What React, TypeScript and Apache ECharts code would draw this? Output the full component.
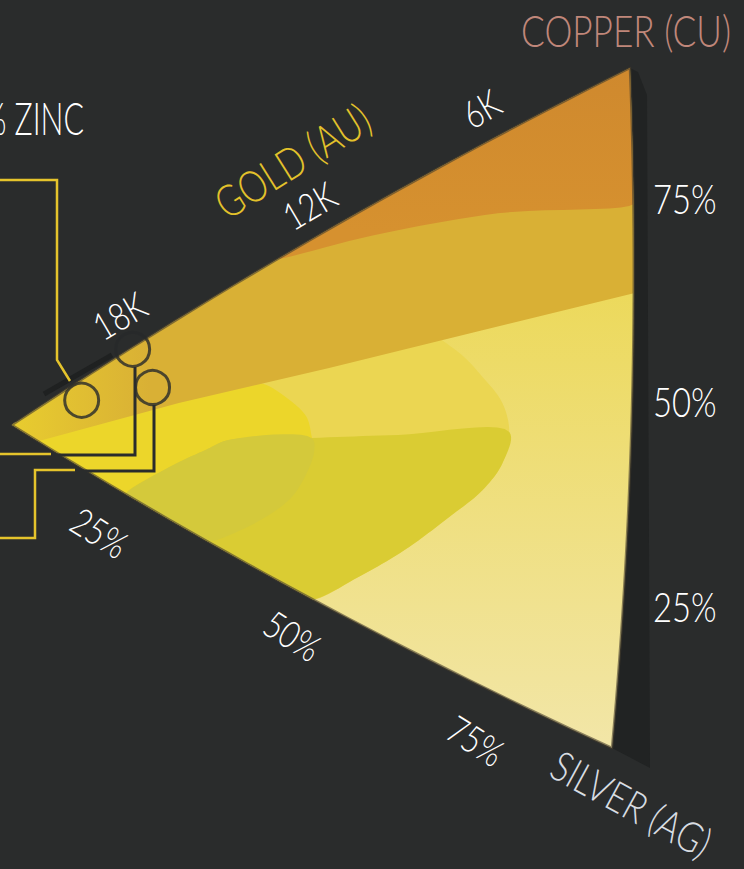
import React, { useEffect, useRef } from 'react';
import * as echarts from 'echarts';

// ---- DATA: alloy zones as ternary compositions [gold %, silver %, copper %] ----
const wholeDiagram = [[100, 0, 0], [0, 100, 0], [0, 0, 100]];
const copperRichZone = [[56, 0, 44], [0, 0, 100], [0, 20, 80], [21, 11, 68], [41, 4.3, 54.7]];
const redGoldZone = [[100, 0, 0], [0, 0, 100], [0, 33.1, 66.9], [23.9, 26.4, 49.7], [47.7, 19.4, 32.9], [72.1, 11.6, 16.3], [95.5, 4.5, 0]];
const paleGoldZone = [
  [49, 51, 0], [41.7, 51.8, 6.5], [34.7, 51.9, 13.4], [27.8, 50.9, 21.3], [22.8, 49.8, 27.4],
  [19.8, 47.5, 32.7], [18.9, 43.5, 37.6], [20.1, 38.7, 41.2], [23.3, 33.3, 43.4], [27.3, 27.6, 45.1],
  [34, 21, 45], [53.1, 13.6, 33.3], [85.5, 4.5, 10], [100, 0, 0],
];
const yellowGoldZone = [
  [66.5, 33.5, 0], [60, 34.9, 5.1], [54.1, 34.8, 11.1], [52, 33.7, 14.3], [49.8, 30, 20.2],
  [50.3, 27.5, 22.2], [51.2, 24.4, 24.4], [54, 20.6, 25.4], [59.1, 15.5, 25.4], [70, 10, 20],
  [85.5, 4.5, 10], [100, 0, 0],
];
const greenGoldZone = [
  [63.8, 21.0, 15.2], [50.3, 27.8, 21.9], [36.4, 34.7, 28.9], [18.9, 43.5, 37.6], [19.8, 47.5, 32.7],
  [22.8, 49.8, 27.4], [27.8, 50.9, 21.3], [34.7, 51.9, 13.4], [41.7, 51.8, 6.5], [49, 51, 0],
  [80.5, 19.5, 0], [73.6, 19.6, 6.8], [67.5, 20.4, 12.1],
];
const overlapZone = [
  [63.8, 21.0, 15.2], [50.3, 27.8, 21.9], [49.8, 30, 20.2], [52, 33.7, 14.3], [54.1, 34.8, 11.1],
  [60, 34.9, 5.1], [66.5, 33.5, 0], [80.5, 19.5, 0], [73.6, 19.6, 6.8], [67.5, 20.4, 12.1],
];
const markedAlloys = [[88.3, 2.8, 8.9], [79.9, 0.3, 19.8], [76.5, 7.2, 16.3]];

const goldEdgeTicks = ['18K', '12K', '6K'];
const silverEdgeTicks = ['25%', '50%', '75%'];
const copperEdgeTicks = ['75%', '50%', '25%'];
const cornerNames = ['GOLD (AU)', 'SILVER (AG)', 'COPPER (CU)'];
const zincNote = '% ZINC';

// ---- LAYOUT ----
const W = 744, H = 869;
const VG = [12, 425], VS = [612, 748], VC = [630, 68];
const BULGE = 11;
const BG = '#2a2c2c';
const FONT = 'Lato';

function outward(a: number[], b: number[], away: number[]) {
  const dx = b[0] - a[0], dy = b[1] - a[1];
  const L = Math.hypot(dx, dy);
  let n = [-dy / L, dx / L];
  const mx = (a[0] + b[0]) / 2 - away[0], my = (a[1] + b[1]) / 2 - away[1];
  if (n[0] * mx + n[1] * my < 0) n = [-n[0], -n[1]];
  return n;
}
const nGS = outward(VG, VS, VC), nSC = outward(VS, VC, VG), nCG = outward(VC, VG, VS);

function toXY(p: number[]) {
  let [g, s, c] = p;
  const t = g + s + c;
  g /= t; s /= t; c /= t;
  const k = 4 * BULGE;
  return [
    g * VG[0] + s * VS[0] + c * VC[0] + k * (g * s * nGS[0] + s * c * nSC[0] + c * g * nCG[0]),
    g * VG[1] + s * VS[1] + c * VC[1] + k * (g * s * nGS[1] + s * c * nSC[1] + c * g * nCG[1]),
  ];
}

// centripetal Catmull-Rom between p1 and p2 (drawing only)
function crSamples(p0: number[], p1: number[], p2: number[], p3: number[], n: number) {
  const d = (a: number[], b: number[]) => Math.max(Math.pow(Math.hypot(b[0] - a[0], b[1] - a[1]), 0.5), 1e-4);
  const t0 = 0, t1 = t0 + d(p0, p1), t2 = t1 + d(p1, p2), t3 = t2 + d(p2, p3);
  const mix = (a: number[], b: number[], wa: number, wb: number) => [a[0] * wa + b[0] * wb, a[1] * wa + b[1] * wb];
  const out: number[][] = [];
  for (let k = 1; k < n; k++) {
    const t = t1 + (t2 - t1) * (k / n);
    const A1 = mix(p0, p1, (t1 - t) / (t1 - t0), (t - t0) / (t1 - t0));
    const A2 = mix(p1, p2, (t2 - t) / (t2 - t1), (t - t1) / (t2 - t1));
    const A3 = mix(p2, p3, (t3 - t) / (t3 - t2), (t - t2) / (t3 - t2));
    const B1 = mix(A1, A2, (t2 - t) / (t2 - t0), (t - t0) / (t2 - t0));
    const B2 = mix(A2, A3, (t3 - t) / (t3 - t1), (t - t1) / (t3 - t1));
    out.push(mix(B1, B2, (t2 - t) / (t2 - t1), (t - t1) / (t2 - t1)));
  }
  return out;
}

function ring(verts: number[][], smooth: boolean) {
  const raw: number[][] = [];
  const onEdge: boolean[] = [];
  for (let i = 0; i < verts.length; i++) {
    const a = verts[i], b = verts[(i + 1) % verts.length];
    raw.push(toXY(a));
    let shared = false;
    for (let j = 0; j < 3; j++) if (a[j] === 0 && b[j] === 0) shared = true;
    onEdge.push(shared);
    if (shared) {
      const n = 30;
      for (let k = 1; k < n; k++) {
        const t = k / n;
        raw.push(toXY([a[0] + (b[0] - a[0]) * t, a[1] + (b[1] - a[1]) * t, a[2] + (b[2] - a[2]) * t]));
        onEdge.push(true);
      }
    }
  }
  if (!smooth) return raw;
  const N = raw.length;
  const out: number[][] = [];
  for (let i = 0; i < N; i++) {
    out.push(raw[i]);
    if (!onEdge[i]) {
      const s = crSamples(raw[(i - 1 + N) % N], raw[i], raw[(i + 1) % N], raw[(i + 2) % N], 10);
      out.push(...s);
    }
  }
  return out;
}

const lg = (x0: number, y0: number, x1: number, y1: number, c0: string, c1: string) =>
  new echarts.graphic.LinearGradient(x0, y0, x1, y1, [{ offset: 0, color: c0 }, { offset: 1, color: c1 }], true);

type Zone = { verts: number[][] | null; fill: any; stroke?: string; lw?: number; shadow?: boolean; smooth?: boolean };
const zones: Zone[] = [
  { verts: null, fill: '#212323', shadow: true },
  { verts: wholeDiagram, fill: lg(0, 290, 0, 750, '#ecd95b', '#f2e6a8') },
  { verts: paleGoldZone, fill: '#ebd652', smooth: true },
  { verts: yellowGoldZone, fill: '#ecd62a', smooth: true },
  { verts: greenGoldZone, fill: '#dacc33', smooth: true },
  { verts: overlapZone, fill: '#d4c93b', smooth: true },
  { verts: redGoldZone, fill: lg(14, 0, 150, 0, '#e8cc2f', '#d9b035') },
  { verts: copperRichZone, fill: lg(0, 70, 0, 230, '#cf892e', '#d6912f'), smooth: true },
  { verts: wholeDiagram, fill: 'none', stroke: 'rgba(70,62,45,0.6)', lw: 2.5 },
];

function rightShadow() {
  const pts: number[][] = [];
  for (let k = 0; k <= 30; k++) {
    const t = k / 30;
    pts.push(toXY([0, t * 100, (1 - t) * 100]));
  }
  pts.push([650, 768], [647, 95], [638, 72]);
  return pts;
}

// condensed look: smaller font stretched vertically
type TOpt = { size: number; rot?: number; color?: string; align?: string; sx?: number };
const txt = (text: string, x: number, y: number, o: TOpt) => {
  const sx = o.sx ?? 0.8;
  return {
    type: 'text', x, y, rotation: o.rot || 0, scaleX: 1, scaleY: 1 / sx, z: 100, silent: true,
    style: {
      text, fill: o.color || '#ffffff', fontFamily: FONT, fontWeight: 300, fontSize: o.size * sx,
      align: o.align || 'center', verticalAlign: 'middle',
    },
  };
};

const goldTickPos = [[119, 315], [309, 205], [481, 108]];
const silverTickPos = [[100, 532], [293, 635], [476, 740]];
const copperTickPos = [[653, 198], [653, 401], [653, 606]];

const yellowLeaders = [
  [[0, 180], [57, 180], [57, 360], [70, 381]],
  [[0, 454], [51, 454]],
  [[0, 538], [35, 538], [35, 470], [75, 470]],
];
const darkLeaders = [
  [[51, 455], [135, 455], [135, 367]],
  [[75, 471], [154, 471], [154, 405]],
];

export default function App() {
  const ref = useRef<HTMLDivElement>(null);
  useEffect(() => {
    if (!ref.current) return;
    const chart = echarts.init(ref.current, undefined, { renderer: 'svg' });
    const graphics: any[] = [];
    graphics.push({
      type: 'polyline', z: 99, silent: true,
      shape: { points: [[44, 394], [112, 355]] },
      style: { stroke: '#1f2121', lineWidth: 5, fill: 'none' },
    });
    yellowLeaders.forEach((p) => graphics.push({
      type: 'polyline', z: 100, silent: true, shape: { points: p },
      style: { stroke: '#e5c42c', lineWidth: 2.5, fill: 'none' },
    }));
    darkLeaders.forEach((p) => graphics.push({
      type: 'polyline', z: 100, silent: true, shape: { points: p },
      style: { stroke: '#2a2c2c', lineWidth: 3, fill: 'none' },
    }));
    goldEdgeTicks.forEach((t, i) => graphics.push(txt(t, goldTickPos[i][0], goldTickPos[i][1], { size: 38, rot: 0.53 })));
    silverEdgeTicks.forEach((t, i) => graphics.push(txt(t, silverTickPos[i][0], silverTickPos[i][1], { size: 38, rot: -0.56 })));
    copperEdgeTicks.forEach((t, i) => graphics.push(txt(t, copperTickPos[i][0], copperTickPos[i][1], { size: 41, align: 'left' })));
    graphics.push(txt(cornerNames[0], 292, 160, { size: 44, rot: 0.56, color: '#e3c22b' }));
    graphics.push(txt(cornerNames[1], 632, 803, { size: 42, rot: -0.5, color: '#d8dde2' }));
    graphics.push(txt(cornerNames[2], 731, 30, { size: 44, align: 'right', color: '#c0877a' }));
    graphics.push(txt(zincNote, 84, 117, { size: 46, align: 'right', sx: 0.66 }));

    chart.setOption({
      animation: false,
      backgroundColor: BG,
      grid: { left: 0, right: 0, top: 0, bottom: 0 },
      xAxis: { type: 'value', min: 0, max: W, show: false },
      yAxis: { type: 'value', min: 0, max: H, inverse: true, show: false },
      series: [
        {
          type: 'custom',
          coordinateSystem: 'cartesian2d',
          clip: false,
          silent: true,
          data: zones.map((_, i) => [i, i]),
          renderItem: (params: any, api: any) => {
            const z = zones[params.dataIndex];
            const pts = (z.shadow ? rightShadow() : ring(z.verts as number[][], !!z.smooth)).map((p) => api.coord(p));
            return {
              type: 'polygon',
              shape: { points: pts },
              style: { fill: z.fill, stroke: z.stroke || 'none', lineWidth: z.lw || 0, lineJoin: 'round' },
            };
          },
        },
        {
          type: 'scatter',
          silent: true,
          symbol: 'circle',
          symbolSize: 34,
          data: markedAlloys.map(toXY),
          itemStyle: { color: 'rgba(0,0,0,0)', borderColor: '#27292a', borderWidth: 3 },
          z: 5,
        },
      ],
      graphic: graphics,
    });
    return () => chart.dispose();
  }, []);
  return <div ref={ref} style={{ position: 'fixed', left: 0, top: 0, width: W, height: H }} />;
}
